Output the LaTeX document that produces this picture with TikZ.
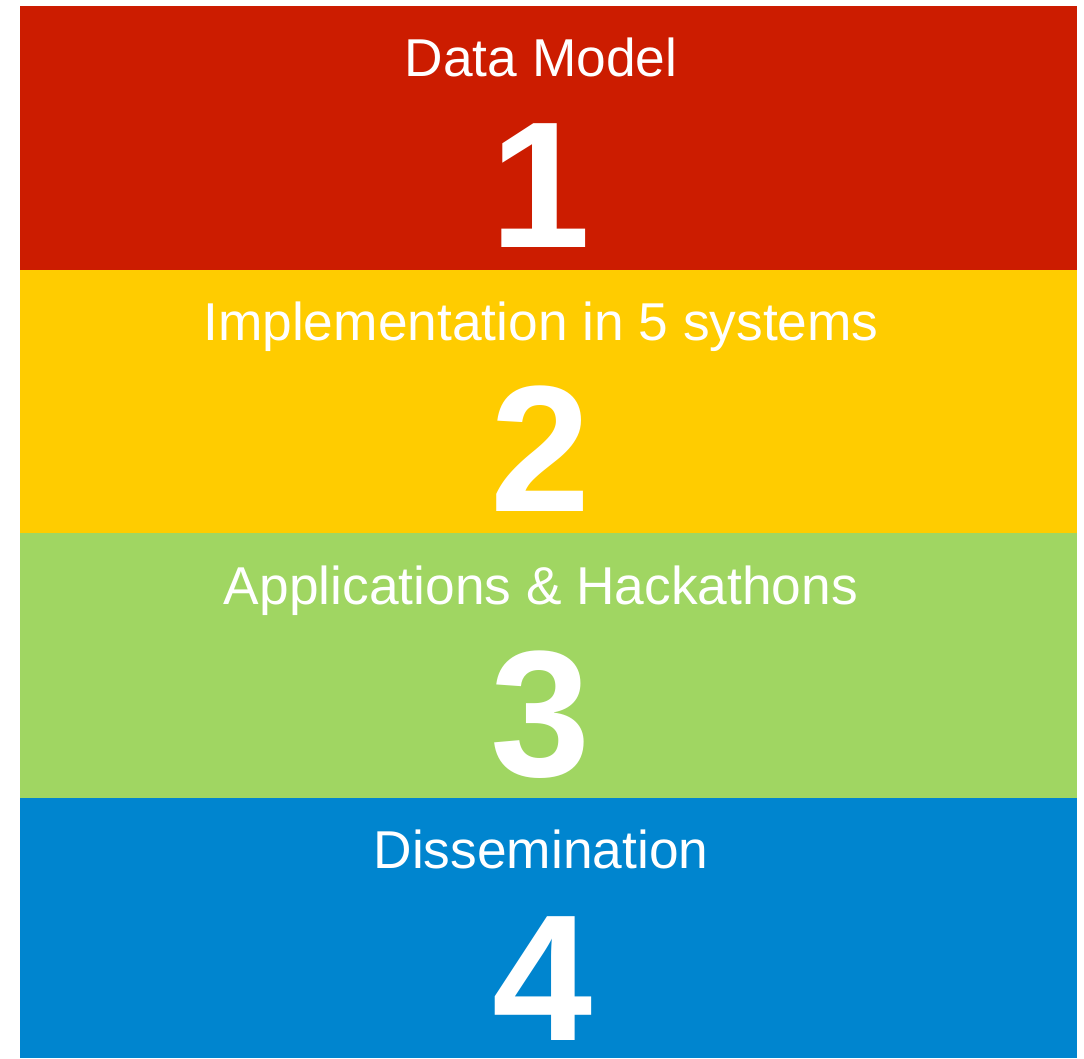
\documentclass[tikz,border=0pt]{standalone}
\usepackage{fontspec}
\setmainfont{Liberation Sans}
\definecolor{bandred}{HTML}{CC1C00}
\definecolor{bandyellow}{HTML}{FFCC00}
\definecolor{bandgreen}{HTML}{A0D662}
\definecolor{bandblue}{HTML}{0085CF}
\begin{document}
\begin{tikzpicture}[x=1pt,y=-1pt,
  title/.style={text=white,anchor=base,inner sep=0pt,font=\fontsize{53.3}{60}\selectfont},
  digit/.style={text=white,anchor=base,inner sep=0pt,font=\fontsize{180}{190}\selectfont\bfseries}]
\useasboundingbox (0,0) rectangle (1084,1058);
\fill[white] (0,0) rectangle (1084,1058);
\fill[bandred] (20,6) rectangle (1077,270);
\fill[bandyellow] (20,270) rectangle (1077,533);
\fill[bandgreen] (20,533) rectangle (1077,798);
\fill[bandblue] (20,798) rectangle (1077,1058);
\node[title] (t1) at (541,76) {Data Model};
\node[digit] (d1) at (541,247) {1};
\node[title] (t2) at (541,340) {Implementation in 5 systems};
\node[digit] (d2) at (541,511) {2};
\node[title] (t3) at (541,604) {Applications \& Hackathons};
\node[digit] (d3) at (541,776) {3};
\node[title] (t4) at (541,868) {Dissemination};
\node[digit] (d4) at (543,1040) {4};
\end{tikzpicture}
\end{document}
